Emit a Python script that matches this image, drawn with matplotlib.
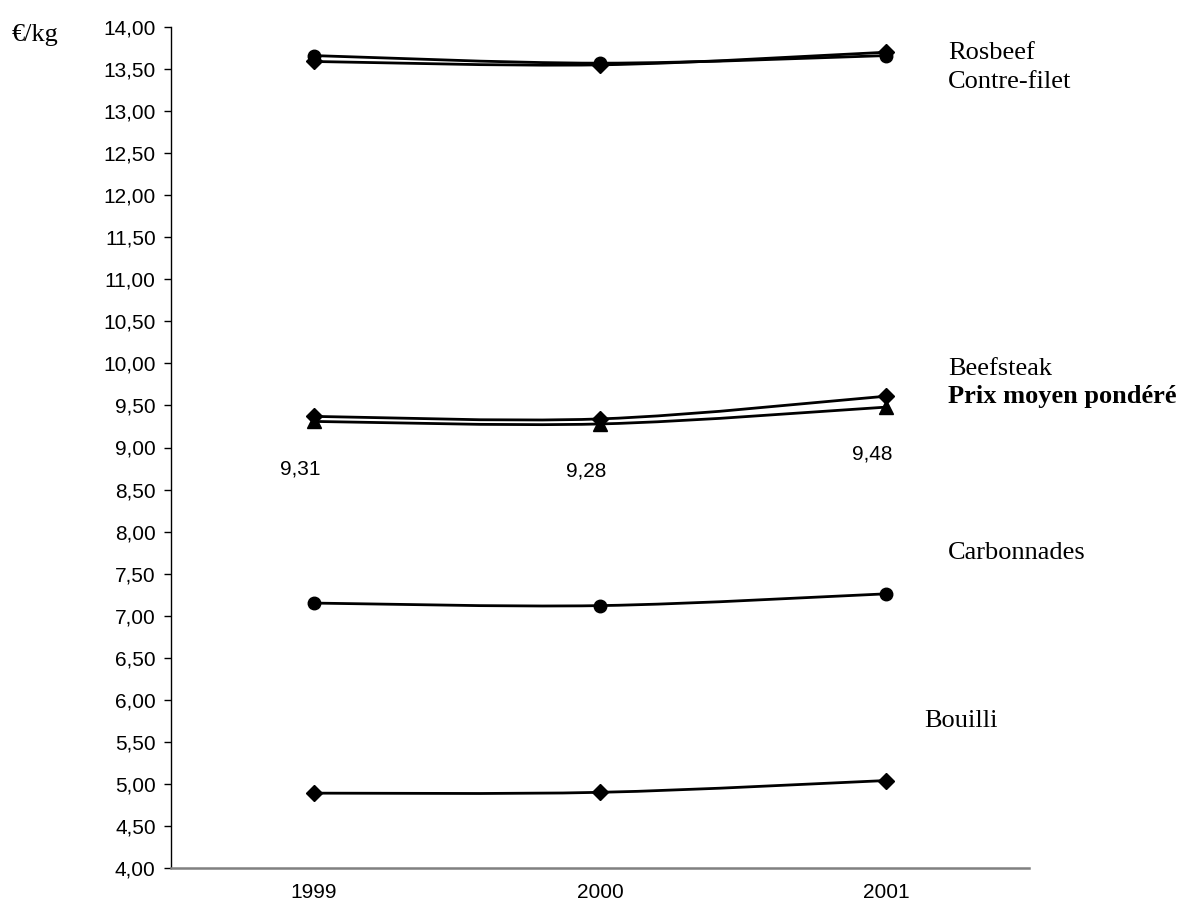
import numpy as np
import matplotlib.pyplot as plt
from matplotlib.path import Path
from matplotlib.patches import PathPatch
from matplotlib.transforms import blended_transform_factory

annees = ["1999", "2000", "2001"]
rosbeef = [13.59, 13.55, 13.70]
contre_filet = [13.66, 13.57, 13.66]
beefsteak = [9.37, 9.34, 9.61]
prix_moyen = [9.31, 9.28, 9.48]
carbonnades = [7.15, 7.12, 7.26]
bouilli = [4.89, 4.90, 5.04]

series = [
    (rosbeef, "D", 8),
    (contre_filet, "o", 9),
    (beefsteak, "D", 8),
    (prix_moyen, "^", 10),
    (carbonnades, "o", 9),
    (bouilli, "D", 8),
]

# nom, hauteur (en €/kg), graisse, position x en pixels
noms = [
    ("Rosbeef", 13.69, "normal", 948),
    ("Contre-filet", 13.35, "normal", 948),
    ("Beefsteak", 9.93, "normal", 948),
    ("Prix moyen pondéré", 9.61, "bold", 948),
    ("Carbonnades", 7.74, "normal", 948),
    ("Bouilli", 5.75, "normal", 924),
]


def courbe_lisse(xs, ys):
    # courbe de Bezier type Excel (lissage) a travers les points
    pts = np.column_stack([xs, ys]).astype(float)
    verts = [pts[0]]
    codes = [Path.MOVETO]
    n = len(pts)
    for i in range(n - 1):
        p0 = pts[i - 1] if i > 0 else pts[i]
        p1 = pts[i]
        p2 = pts[i + 1]
        p3 = pts[i + 2] if i + 2 < n else pts[i + 1]
        c1 = p1 + (p2 - p0) / 6.0
        c2 = p2 - (p3 - p1) / 6.0
        verts += [c1, c2, p2]
        codes += [Path.CURVE4] * 3
    return Path(verts, codes)


fig = plt.figure(figsize=(11.83, 9.11), dpi=100)
ax = fig.add_axes([171 / 1183, 1 - 868 / 911, (1029 - 171) / 1183, (868 - 27) / 911])

x = np.arange(len(annees))
for valeurs, marqueur, taille in series:
    ax.add_patch(PathPatch(courbe_lisse(x, valeurs), facecolor="none",
                           edgecolor="black", linewidth=2, zorder=2))
    ax.plot(x, valeurs, linestyle="none", marker=marqueur, markersize=taille,
            color="black", zorder=3)

for xi, v in zip(x, prix_moyen):
    ax.annotate(f"{v:.2f}".replace(".", ","), (xi, v), xytext=(-10, -34),
                textcoords="offset points", ha="center", va="center",
                fontsize=15, family="Liberation Sans")

ax.set_xlim(-0.5, 2.5)
ax.set_ylim(4, 14)
ticks = np.arange(4, 14.01, 0.5)
ax.set_yticks(ticks)
ax.set_yticklabels([f"{t:.2f}".replace(".", ",") for t in ticks],
                   fontsize=15, family="Liberation Sans")
ax.set_xticks(x)
ax.set_xticklabels(annees, fontsize=15, family="Liberation Sans")
ax.tick_params(axis="x", length=0, pad=11)
ax.tick_params(axis="y", length=5, width=1, pad=6)

ax.spines["top"].set_visible(False)
ax.spines["right"].set_visible(False)
ax.spines["bottom"].set_color("#808080")
ax.spines["bottom"].set_linewidth(1.8)
ax.spines["left"].set_linewidth(1)

trans = blended_transform_factory(fig.transFigure, ax.transData)
for texte, y, poids, px in noms:
    ax.text(px / 1183, y, texte, transform=trans, clip_on=False,
            fontsize=19, family="Liberation Serif", fontweight=poids,
            va="center", ha="left")

ax.text(12 / 1183, 1 - 35 / 911, "€/kg", transform=fig.transFigure,
        fontsize=19, family="Liberation Serif", va="center", ha="left")

fig.savefig("out.png", dpi=100)
